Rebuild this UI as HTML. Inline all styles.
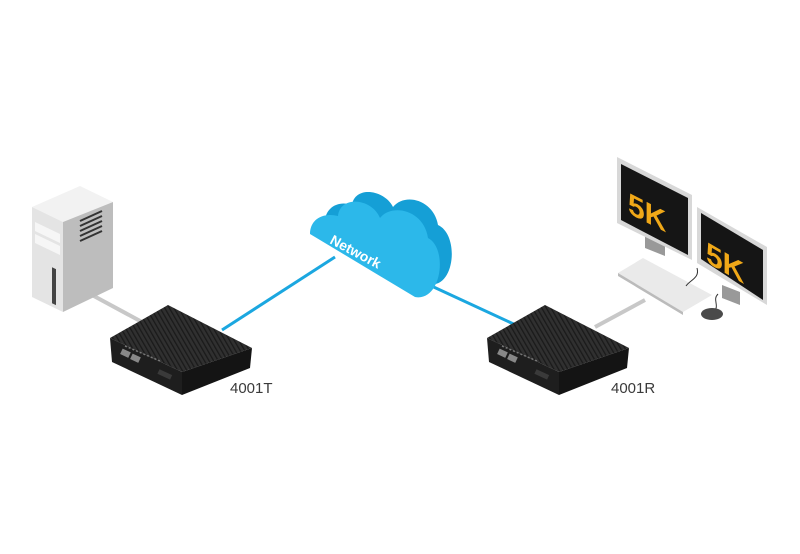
<!DOCTYPE html>
<html><head><style>
html,body{margin:0;padding:0;background:#fff;}
svg{display:block;}
</style></head><body>
<svg width="800" height="554" viewBox="0 0 800 554" xmlns="http://www.w3.org/2000/svg">
<defs>
<pattern id="fins" width="4" height="4" patternUnits="userSpaceOnUse" patternTransform="rotate(-30)">
<rect width="4" height="4" fill="#303030"/><rect width="1.3" height="4" fill="#1a1a1a"/>
</pattern>
<g id="box">
<polygon points="110,338 168,305 252,348 182,372" fill="url(#fins)"/>
<polygon points="110,338 182,372 182,395 112,362" fill="#1e1e1e"/>
<polygon points="182,372 252,348 250,368 182,395" fill="#141414"/>
<rect x="121" y="350" width="9" height="6" fill="#888" transform="rotate(25 125 353)"/>
<rect x="131" y="355" width="9" height="6" fill="#888" transform="rotate(25 135 358)"/>
<line x1="125" y1="346" x2="160" y2="361" stroke="#777" stroke-width="1.5" stroke-dasharray="2 2"/>
<rect x="158" y="372" width="14" height="5" fill="#3a3a3a" transform="rotate(25 165 374)"/>
</g>
</defs>

<line x1="92" y1="295" x2="142" y2="322" stroke="#c8c8c8" stroke-width="4"/>
<line x1="222" y1="330" x2="335" y2="257" stroke="#1ba7e0" stroke-width="3"/>
<line x1="425" y1="283" x2="520" y2="327" stroke="#1ba7e0" stroke-width="3"/>
<line x1="595" y1="327" x2="645" y2="300" stroke="#c8c8c8" stroke-width="4"/>

<polygon points="32,207 80,186 113,202 63,222" fill="#f2f2f2"/>
<polygon points="32,207 63,222 63,312 32,297" fill="#e4e4e4"/>
<polygon points="63,222 113,202 113,288 63,312" fill="#bdbdbd"/>
<polygon points="35,222 60,234 60,243 35,231" fill="#f6f6f6"/>
<polygon points="35,234 60,246 60,255 35,243" fill="#f6f6f6"/>
<rect x="52" y="268" width="4" height="36" fill="#444" transform="skewY(25) translate(0,-25)"/>
<g stroke="#333" stroke-width="2">
<line x1="80" y1="221" x2="102" y2="211"/><line x1="80" y1="226" x2="102" y2="216"/>
<line x1="80" y1="231" x2="102" y2="221"/><line x1="80" y1="236" x2="102" y2="226"/>
<line x1="80" y1="241" x2="102" y2="231"/>
</g>

<use href="#box"/>
<use href="#box" transform="translate(377,0)"/>

<path d="M325,222 L428,284 C455,290 460,235 438,225 C434,200 405,192 393,207 C385,190 355,185 352,205 C338,200 325,208 325,222 Z" fill="#159fd6"/>
<path d="M310,234 L415,297 C442,302 448,248 428,238 C424,210 392,203 380,218 C372,198 340,195 338,216 C322,212 310,220 310,234 Z" fill="#2cb8ea"/>
<text x="0" y="0" transform="translate(329,243) rotate(28)" font-family="Liberation Sans, sans-serif" font-weight="bold" font-size="14" fill="#fff">Network</text>

<polygon points="645,232 665,240 665,256 645,248" fill="#999"/>
<polygon points="617,157 692,195 692,260 617,223" fill="#d8d8d8"/>
<polygon points="621,164 688,198 688,255 621,220" fill="#151515"/>
<text transform="translate(628,213) skewY(27)" font-family="Liberation Sans, sans-serif" font-weight="bold" font-size="30" fill="#f0a818">5K</text>
<polygon points="618,273 643,258 712,295 683,312" fill="#eaeaea"/>
<polygon points="618,273 683,312 683,315 618,276" fill="#bbb"/>
<polygon points="722,285 740,292 740,305 722,298" fill="#999"/>
<polygon points="697,207 767,247 767,305 697,263" fill="#d8d8d8"/>
<polygon points="701,213 763,250 763,300 701,259" fill="#151515"/>
<text transform="translate(706,262) skewY(30)" font-family="Liberation Sans, sans-serif" font-weight="bold" font-size="30" fill="#f0a818">5K</text>
<path d="M718,294 C712,300 720,305 714,312" stroke="#333" fill="none" stroke-width="1"/>
<path d="M697,268 C700,278 690,280 686,286" stroke="#333" fill="none" stroke-width="1"/>
<ellipse cx="712" cy="314" rx="11" ry="6" fill="#4a4a4a"/>

<text x="230" y="393" font-family="Liberation Sans, sans-serif" font-size="15" fill="#3a3a3a">4001T</text>
<text x="611" y="393" font-family="Liberation Sans, sans-serif" font-size="15" fill="#3a3a3a">4001R</text>
</svg>
</body></html>
